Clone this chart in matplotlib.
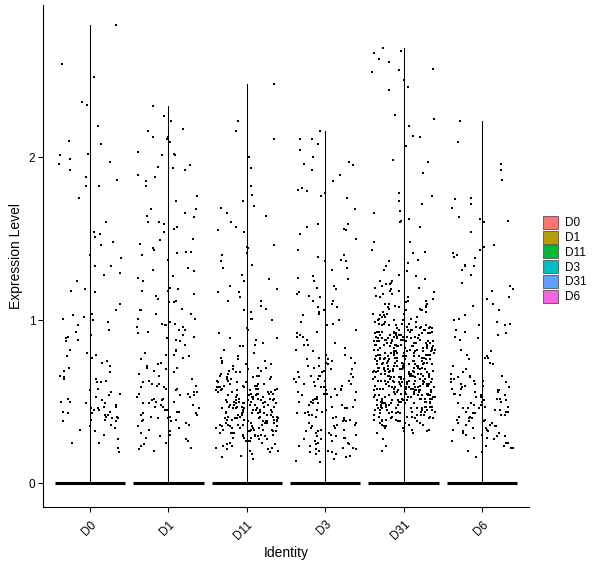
import numpy as np
import matplotlib
matplotlib.use("Agg")
import matplotlib.pyplot as plt
from matplotlib.patches import Patch

plt.rcParams['font.family'] = ['Liberation Sans', 'DejaVu Sans']

# --- datos ---
identities = ["D0", "D1", "D11", "D3", "D31", "D6"]
colores = ["#F8766D", "#B79F00", "#00BA38", "#00BFC4", "#619CFF", "#F564E3"]

# celulas con expresion 0 (barra negra en 0)
n_cero = [700, 700, 600, 600, 500, 650]

expr_D0 = [2.81, 2.57, 2.49, 2.34, 2.32, 2.19, 2.10, 2.08, 2.02, 2.01, 1.99, 1.97, 1.96, 1.92,
           1.88, 1.86, 1.82, 1.82, 1.75, 1.60, 1.54, 1.53, 1.51, 1.48, 1.46, 1.40, 1.38, 1.33,
           1.33, 1.29, 1.28, 1.24, 1.19, 1.18, 1.17, 1.10, 1.06, 1.04, 1.03, 1.02, 1.01, 1.00,
           0.99, 0.97, 0.94, 0.93, 0.91, 0.90, 0.89, 0.88, 0.87, 0.82, 0.80, 0.79, 0.78, 0.77,
           0.75, 0.74, 0.72, 0.71, 0.69, 0.68, 0.66, 0.65, 0.64, 0.64, 0.63, 0.62, 0.62, 0.58,
           0.57, 0.56, 0.55, 0.54, 0.53, 0.52, 0.51, 0.50, 0.50, 0.49, 0.49, 0.48, 0.47, 0.47,
           0.46, 0.46, 0.45, 0.45, 0.44, 0.44, 0.43, 0.43, 0.42, 0.42, 0.41, 0.41, 0.40, 0.40,
           0.39, 0.39, 0.38, 0.38, 0.36, 0.35, 0.34, 0.33, 0.32, 0.30, 0.27, 0.25, 0.25, 0.22,
           0.19]

expr_D1 = [2.31, 2.25, 2.22, 2.17, 2.16, 2.12, 2.12, 2.11, 2.09, 2.03, 2.02, 2.01, 2.01, 1.95,
           1.94, 1.93, 1.92, 1.89, 1.88, 1.85, 1.82, 1.76, 1.73, 1.68, 1.68, 1.66, 1.64, 1.63,
           1.60, 1.60, 1.59, 1.57, 1.56, 1.54, 1.50, 1.49, 1.47, 1.44, 1.43, 1.42, 1.42, 1.41,
           1.40, 1.37, 1.32, 1.31, 1.30, 1.27, 1.26, 1.24, 1.20, 1.19, 1.18, 1.18, 1.16, 1.15,
           1.13, 1.12, 1.11, 1.11, 1.07, 1.06, 1.06, 1.04, 1.04, 1.01, 1.01, 0.99, 0.98, 0.98,
           0.97, 0.97, 0.96, 0.96, 0.94, 0.94, 0.93, 0.92, 0.91, 0.90, 0.89, 0.88, 0.87, 0.85,
           0.82, 0.81, 0.80, 0.79, 0.79, 0.78, 0.77, 0.76, 0.74, 0.73, 0.72, 0.71, 0.71, 0.70,
           0.69, 0.68, 0.67, 0.66, 0.64, 0.63, 0.62, 0.61, 0.61, 0.60, 0.60, 0.59, 0.59, 0.58,
           0.58, 0.57, 0.56, 0.56, 0.55, 0.55, 0.54, 0.54, 0.53, 0.53, 0.52, 0.52, 0.51, 0.51,
           0.50, 0.50, 0.49, 0.49, 0.48, 0.48, 0.47, 0.47, 0.46, 0.46, 0.45, 0.45, 0.44, 0.44,
           0.43, 0.43, 0.42, 0.42, 0.41, 0.41, 0.40, 0.40, 0.39, 0.39, 0.38, 0.38, 0.37, 0.36,
           0.35, 0.34, 0.33, 0.32, 0.31, 0.30, 0.29, 0.28, 0.27, 0.26, 0.25, 0.24, 0.23, 0.22,
           0.21, 0.20]

expr_D11 = [2.45, 2.22, 2.16, 2.11, 2.00, 1.93, 1.82, 1.77, 1.73, 1.70, 1.69, 1.66, 1.64, 1.60,
            1.57, 1.55, 1.54, 1.46, 1.45, 1.44, 1.41, 1.40, 1.36, 1.34, 1.32, 1.28, 1.25, 1.24,
            1.21, 1.19, 1.17, 1.17, 1.14, 1.12, 1.12, 1.09, 1.07, 1.06, 1.05, 1.01, 1.01, 1.00,
            0.95, 0.94, 0.92, 0.89, 0.89, 0.88, 0.86, 0.85, 0.84, 0.84, 0.82, 0.80, 0.78, 0.77,
            0.76, 0.75, 0.75, 0.74, 0.73, 0.73, 0.72, 0.71, 0.71, 0.70, 0.70, 0.69, 0.69, 0.68,
            0.68, 0.67, 0.67, 0.66, 0.66, 0.66, 0.65, 0.65, 0.65, 0.64, 0.64, 0.64, 0.63, 0.63,
            0.63, 0.62, 0.62, 0.62, 0.61, 0.61, 0.61, 0.60, 0.60, 0.60, 0.60,
            0.59, 0.59, 0.59, 0.59, 0.58, 0.58, 0.58, 0.58, 0.57, 0.57, 0.57, 0.57, 0.57,
            0.56, 0.56, 0.56, 0.56, 0.55, 0.55, 0.55, 0.55, 0.55, 0.54, 0.54, 0.54, 0.54,
            0.53, 0.53, 0.53, 0.53, 0.53, 0.52, 0.52, 0.52, 0.52, 0.52, 0.51, 0.51, 0.51,
            0.51, 0.51, 0.50, 0.50, 0.50, 0.50, 0.50, 0.49, 0.49, 0.49, 0.49, 0.49, 0.48,
            0.48, 0.48, 0.48, 0.48, 0.47, 0.47, 0.47, 0.47, 0.47, 0.46, 0.46, 0.46, 0.46,
            0.46, 0.45, 0.45, 0.45, 0.45, 0.45, 0.44, 0.44, 0.44, 0.44, 0.44, 0.43, 0.43,
            0.43, 0.43, 0.43, 0.42, 0.42, 0.42, 0.42, 0.42, 0.41, 0.41, 0.41, 0.41, 0.41,
            0.40, 0.40, 0.40, 0.40, 0.40, 0.39, 0.39, 0.39, 0.39, 0.39, 0.38, 0.38, 0.38,
            0.38, 0.38, 0.37, 0.37, 0.37, 0.37, 0.37, 0.36, 0.36, 0.36, 0.36, 0.36, 0.35,
            0.35, 0.35, 0.35, 0.35, 0.34, 0.34, 0.34, 0.34, 0.34, 0.33, 0.33, 0.33, 0.33,
            0.33, 0.32, 0.32, 0.32, 0.32, 0.31, 0.31, 0.31, 0.31, 0.30, 0.30, 0.30, 0.30,
            0.29, 0.29, 0.29, 0.29, 0.28, 0.28, 0.28, 0.27, 0.27, 0.27, 0.26, 0.26, 0.26,
            0.25, 0.25, 0.24, 0.24, 0.23, 0.23, 0.22, 0.22, 0.21, 0.21, 0.20, 0.20, 0.19,
            0.18, 0.17, 0.16, 0.15]

expr_D3 = [2.16, 2.11, 2.11, 2.08, 2.04, 2.00, 1.97, 1.96, 1.95, 1.92, 1.89, 1.85, 1.81, 1.80,
           1.79, 1.78, 1.76, 1.75, 1.68, 1.59, 1.59, 1.57, 1.56, 1.55, 1.53, 1.50, 1.43, 1.40,
           1.39, 1.37, 1.36, 1.36, 1.32, 1.31, 1.27, 1.26, 1.25, 1.24, 1.21, 1.20, 1.19, 1.17,
           1.16, 1.15, 1.14, 1.12, 1.12, 1.10, 1.08, 1.08, 1.06, 1.05, 1.04, 1.03, 1.00, 0.99,
           0.98, 0.97, 0.94, 0.93, 0.92, 0.91, 0.90, 0.90, 0.88, 0.86, 0.85, 0.85, 0.83, 0.82,
           0.81, 0.79, 0.79, 0.77, 0.77, 0.76, 0.76, 0.75, 0.74, 0.74, 0.73, 0.72, 0.72, 0.71,
           0.70, 0.70, 0.69, 0.68, 0.68, 0.67, 0.66, 0.66, 0.66, 0.65, 0.65, 0.64, 0.64, 0.63,
           0.63, 0.62, 0.62, 0.61, 0.61, 0.60, 0.60, 0.59, 0.59, 0.58, 0.58, 0.57, 0.57, 0.56,
           0.56, 0.55, 0.55, 0.54, 0.54, 0.53, 0.53, 0.52, 0.52, 0.51, 0.51, 0.50, 0.50, 0.49,
           0.49, 0.48, 0.48, 0.47, 0.47, 0.46, 0.46, 0.45, 0.45, 0.44, 0.44, 0.43, 0.43, 0.42,
           0.42, 0.41, 0.41, 0.40, 0.40, 0.39, 0.39, 0.38, 0.38, 0.37, 0.37, 0.36, 0.36, 0.35,
           0.35, 0.34, 0.34, 0.33, 0.33, 0.32, 0.32, 0.31, 0.31, 0.30, 0.30, 0.29, 0.29, 0.28,
           0.28, 0.27, 0.27, 0.26, 0.26, 0.25, 0.25, 0.24, 0.24, 0.23, 0.23, 0.22, 0.22, 0.21,
           0.21, 0.20, 0.20, 0.19, 0.19, 0.18, 0.18, 0.17, 0.16, 0.15, 0.14, 0.13]

expr_D31 = [2.67, 2.65, 2.64, 2.60, 2.58, 2.54, 2.53, 2.52, 2.47, 2.43, 2.41, 2.26, 2.23, 2.19,
            2.13, 2.12, 2.07, 1.98, 1.97, 1.90, 1.78, 1.76, 1.73, 1.71, 1.67, 1.66, 1.62, 1.61,
            1.60, 1.57, 1.48, 1.48, 1.43, 1.42, 1.41, 1.37, 1.36, 1.35, 1.33, 1.31, 1.30, 1.28,
            1.27, 1.25, 1.24, 1.24, 1.23, 1.22, 1.22, 1.21, 1.20, 1.20, 1.19, 1.18, 1.18, 1.17,
            1.16, 1.16, 1.15, 1.14, 1.14, 1.13, 1.12, 1.12, 1.11, 1.10, 1.10, 1.10, 1.09, 1.09,
            1.08, 1.08, 1.08, 1.07, 1.07, 1.06, 1.06, 1.06, 1.05, 1.05, 1.04, 1.04, 1.04, 1.03,
            1.03, 1.02, 1.02, 1.02, 1.01, 1.01, 1.00, 1.00, 1.00, 0.99, 0.99, 0.99,
            0.98, 0.98, 0.98, 0.98, 0.97, 0.97, 0.97, 0.97, 0.96, 0.96, 0.96, 0.96, 0.96,
            0.95, 0.95, 0.95, 0.95, 0.95, 0.94, 0.94, 0.94, 0.94, 0.94, 0.94, 0.93, 0.93,
            0.93, 0.93, 0.93, 0.93, 0.92, 0.92, 0.92, 0.92, 0.92, 0.92, 0.91, 0.91, 0.91,
            0.91, 0.91, 0.91, 0.90, 0.90, 0.90, 0.90, 0.90, 0.90, 0.90, 0.89, 0.89, 0.89,
            0.89, 0.89, 0.89, 0.88, 0.88, 0.88, 0.88, 0.88, 0.88, 0.88, 0.87, 0.87, 0.87,
            0.87, 0.87, 0.87, 0.87, 0.86, 0.86, 0.86, 0.86, 0.86, 0.86, 0.86, 0.85, 0.85,
            0.85, 0.85, 0.85, 0.85, 0.85, 0.84, 0.84, 0.84, 0.84, 0.84, 0.84, 0.84, 0.83,
            0.83, 0.83, 0.83, 0.83, 0.83, 0.83, 0.82, 0.82, 0.82, 0.82, 0.82, 0.82, 0.82,
            0.81, 0.81, 0.81, 0.81, 0.81, 0.81, 0.81, 0.80, 0.80, 0.80, 0.80, 0.80, 0.80,
            0.80, 0.79, 0.79, 0.79, 0.79, 0.79, 0.79, 0.79, 0.78, 0.78, 0.78, 0.78, 0.78,
            0.78, 0.78, 0.77, 0.77, 0.77, 0.77, 0.77, 0.77, 0.77, 0.76, 0.76, 0.76, 0.76,
            0.76, 0.76, 0.76, 0.75, 0.75, 0.75, 0.75, 0.75, 0.75, 0.75, 0.74, 0.74, 0.74,
            0.74, 0.74, 0.74, 0.74, 0.73, 0.73, 0.73, 0.73, 0.73, 0.73, 0.73, 0.72, 0.72,
            0.72, 0.72, 0.72, 0.72, 0.72, 0.71, 0.71, 0.71, 0.71, 0.71, 0.71, 0.71, 0.70,
            0.70, 0.70, 0.70, 0.70, 0.70, 0.70, 0.69, 0.69, 0.69, 0.69, 0.69, 0.69, 0.69,
            0.68, 0.68, 0.68, 0.68, 0.68, 0.68, 0.68, 0.67, 0.67, 0.67, 0.67, 0.67, 0.67,
            0.67, 0.66, 0.66, 0.66, 0.66, 0.66, 0.66, 0.66, 0.65, 0.65, 0.65, 0.65, 0.65,
            0.65, 0.65, 0.64, 0.64, 0.64, 0.64, 0.64, 0.64, 0.64, 0.63, 0.63, 0.63, 0.63,
            0.63, 0.63, 0.63, 0.62, 0.62, 0.62, 0.62, 0.62, 0.62, 0.62, 0.61, 0.61, 0.61,
            0.61, 0.61, 0.61, 0.61, 0.60, 0.60, 0.60, 0.60, 0.60, 0.60, 0.60, 0.59, 0.59,
            0.59, 0.59, 0.59, 0.59, 0.59, 0.58, 0.58, 0.58, 0.58, 0.58, 0.58, 0.58, 0.57,
            0.57, 0.57, 0.57, 0.57, 0.57, 0.57, 0.56, 0.56, 0.56, 0.56, 0.56, 0.56, 0.56,
            0.55, 0.55, 0.55, 0.55, 0.55, 0.55, 0.55, 0.54, 0.54, 0.54, 0.54, 0.54, 0.54,
            0.54, 0.53, 0.53, 0.53, 0.53, 0.53, 0.53, 0.53, 0.52, 0.52, 0.52, 0.52, 0.52,
            0.52, 0.52, 0.51, 0.51, 0.51, 0.51, 0.51, 0.51, 0.51, 0.50, 0.50, 0.50, 0.50,
            0.50, 0.50, 0.50, 0.49, 0.49, 0.49, 0.49, 0.49, 0.49, 0.49, 0.48, 0.48, 0.48,
            0.48, 0.48, 0.48, 0.48, 0.47, 0.47, 0.47, 0.47, 0.47, 0.47, 0.46, 0.46, 0.46,
            0.46, 0.46, 0.46, 0.45, 0.45, 0.45, 0.45, 0.45, 0.45, 0.44, 0.44, 0.44, 0.44,
            0.44, 0.44, 0.43, 0.43, 0.43, 0.43, 0.43, 0.42, 0.42, 0.42, 0.42, 0.42, 0.41,
            0.41, 0.41, 0.41, 0.41, 0.40, 0.40, 0.40, 0.40, 0.39, 0.39, 0.39, 0.39, 0.38,
            0.38, 0.38, 0.38, 0.37, 0.37, 0.37, 0.36, 0.36, 0.36, 0.35, 0.35, 0.35, 0.34,
            0.34, 0.33, 0.33, 0.32, 0.32, 0.31, 0.31, 0.27, 0.23, 0.20]

expr_D6 = [2.22, 2.09, 1.96, 1.92, 1.86, 1.75, 1.74, 1.71, 1.69, 1.63, 1.62, 1.61, 1.60, 1.54,
           1.46, 1.45, 1.43, 1.41, 1.40, 1.39, 1.38, 1.34, 1.33, 1.33, 1.31, 1.28, 1.23, 1.21,
           1.19, 1.18, 1.14, 1.13, 1.10, 1.09, 1.06, 1.03, 1.01, 1.00, 0.99, 0.98, 0.97, 0.97,
           0.94, 0.93, 0.92, 0.91, 0.90, 0.89, 0.88, 0.82, 0.81, 0.79, 0.78, 0.77, 0.77, 0.76,
           0.74, 0.73, 0.72, 0.70, 0.68, 0.67, 0.66, 0.66, 0.65, 0.65, 0.64, 0.64, 0.63, 0.63,
           0.62, 0.62, 0.61, 0.61, 0.60, 0.60, 0.59, 0.59, 0.58, 0.58, 0.57, 0.57, 0.56, 0.56,
           0.55, 0.55, 0.54, 0.54, 0.54, 0.53, 0.53, 0.52, 0.52, 0.51, 0.51, 0.50, 0.50, 0.49,
           0.49, 0.48, 0.48, 0.47, 0.47, 0.46, 0.46, 0.46, 0.45, 0.45, 0.44, 0.44, 0.44, 0.43,
           0.43, 0.42, 0.42, 0.41, 0.41, 0.40, 0.40, 0.39, 0.39, 0.38, 0.38, 0.37, 0.37, 0.36,
           0.36, 0.35, 0.35, 0.34, 0.34, 0.33, 0.33, 0.32, 0.32, 0.31, 0.31, 0.30, 0.30, 0.29,
           0.29, 0.28, 0.28, 0.27, 0.26, 0.25, 0.25, 0.23, 0.23, 0.22, 0.22, 0.20, 0.19, 0.16]

grupos = [expr_D0, expr_D1, expr_D11, expr_D3, expr_D31, expr_D6]

# --- figura ---
fig = plt.figure(figsize=(6.0, 5.68), dpi=100)
ax = fig.add_axes([0.0717, 0.108, 0.81, 0.884])

for i, vals in enumerate(grupos):
    pos = i + 1
    y = np.concatenate([np.array(vals), np.zeros(n_cero[i])])
    k = np.arange(len(y)) + 1.0
    # jitter determinista (hash tipo seno), ancho 0.4 como geom_jitter
    u = np.modf(np.abs(np.sin(k * 12.9898 + i * 78.233)) * 43758.5453)[0]
    dx = 0.4 * (2 * u - 1)
    # "violin": cola fina hasta el maximo y base ancha en 0
    ax.plot([pos, pos], [0, max(vals)], color="black", lw=0.75, zorder=1)
    ax.plot([pos - 0.45, pos + 0.45], [0, 0], color="black", lw=2.2,
            solid_capstyle="butt", zorder=1)
    ax.scatter(pos + dx, y, s=2.2, marker="s", color="black", linewidths=0, zorder=2)

ax.set_xlim(0.4, 6.6)
ax.set_ylim(-0.142, 2.934)
ax.set_xticks(range(1, 7))
ax.set_xticklabels(identities, rotation=45, ha="right", va="top",
                   rotation_mode="anchor", fontsize=8.5)
ax.set_yticks([0, 1, 2])
ax.set_yticklabels(["0", "1", "2"], fontsize=8.5)
ax.tick_params(axis="both", length=3.5, width=0.75, color="black", pad=2)
ax.tick_params(axis="x", pad=5)
for lado in ["top", "right"]:
    ax.spines[lado].set_visible(False)
for lado in ["left", "bottom"]:
    ax.spines[lado].set_linewidth(0.8)
ax.set_xlabel("Identity", fontsize=10, labelpad=3)
ax.set_ylabel("Expression Level", fontsize=10, labelpad=4)

handles = [Patch(facecolor=c, edgecolor="#555555", linewidth=0.6) for c in colores]
fig.legend(handles, identities, loc="center left", bbox_to_anchor=(0.897, 0.543),
           frameon=False, fontsize=8.5, handlelength=1.25, handleheight=1.3,
           handletextpad=0.6, labelspacing=0.12, borderaxespad=0)

fig.savefig("out.png", dpi=100)
